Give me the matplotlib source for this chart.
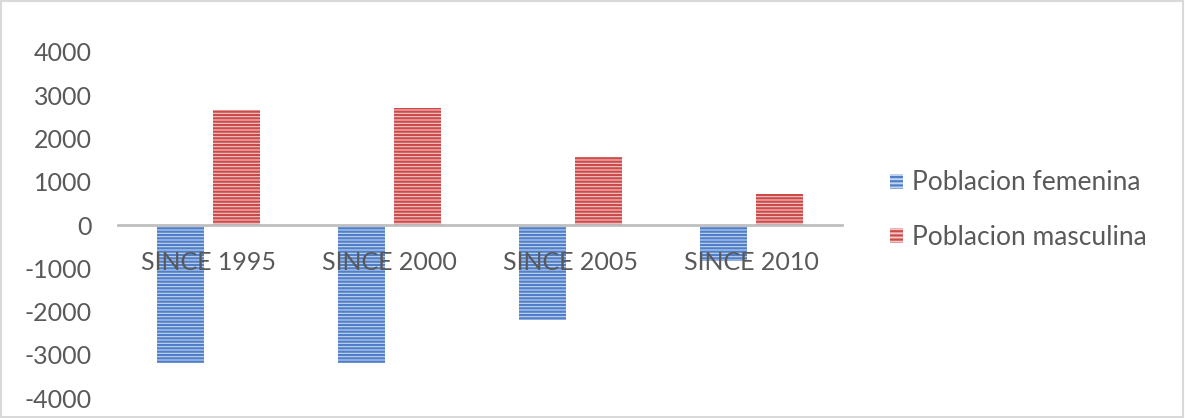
import numpy as np
import matplotlib.pyplot as plt
from matplotlib.patches import Patch, Rectangle

# values
categories = ["SINCE 1995", "SINCE 2000", "SINCE 2005", "SINCE 2010"]
femenina = [-3200, -3200, -2200, -830]
masculina = [2650, 2700, 1570, 720]
series_names = ["Poblacion femenina", "Poblacion masculina"]

plt.rcParams["font.family"] = ["Lato", "DejaVu Sans"]
plt.rcParams["axes.unicode_minus"] = False
plt.rcParams["hatch.linewidth"] = 1.6
txt = "#595959"

fig = plt.figure(figsize=(11.85, 4.18), dpi=100)
ax = fig.add_axes([0.0996, 0.0478, 0.6109, 0.8278])

x = np.arange(len(categories))
w = 0.26
gap = 0.045
ax.bar(x - w / 2 - gap / 2, femenina, w, facecolor="#c5d5ee", edgecolor="#4f7fc9",
       hatch="-----", linewidth=0)
ax.bar(x + w / 2 + gap / 2, masculina, w, facecolor="#f3c9c9", edgecolor="#cd4a4a",
       hatch="-----", linewidth=0)

ax.set_xlim(-0.5, len(categories) - 0.5)
ax.set_ylim(-4000, 4000)
ax.set_yticks(range(-4000, 4001, 1000))
ax.set_xticks(x)
ax.set_xticklabels(categories)

for s in ["top", "right", "left"]:
    ax.spines[s].set_visible(False)
ax.spines["bottom"].set_position(("data", 0))
ax.spines["bottom"].set_color("#bfbfbf")
ax.spines["bottom"].set_linewidth(2)

ax.tick_params(axis="y", length=0, pad=19, labelsize=18, labelcolor=txt)
ax.tick_params(axis="x", length=0, pad=19, labelsize=18, labelcolor=txt)

handles = [
    Patch(facecolor="#c5d5ee", edgecolor="#4f7fc9", hatch="----", linewidth=0),
    Patch(facecolor="#f3c9c9", edgecolor="#cd4a4a", hatch="----", linewidth=0),
]
fig.legend(handles, series_names, loc="center left", bbox_to_anchor=(0.731, 0.497),
           frameon=False, fontsize=19, labelcolor=txt, handlelength=0.5,
           handleheight=0.5, handletextpad=0.35, labelspacing=1.12)

fig.patches.append(Rectangle((0.001, 0.002), 0.997, 0.995, transform=fig.transFigure,
                             fill=False, edgecolor="#d9d9d9", linewidth=1.5))

fig.savefig("out.png", dpi=100)
